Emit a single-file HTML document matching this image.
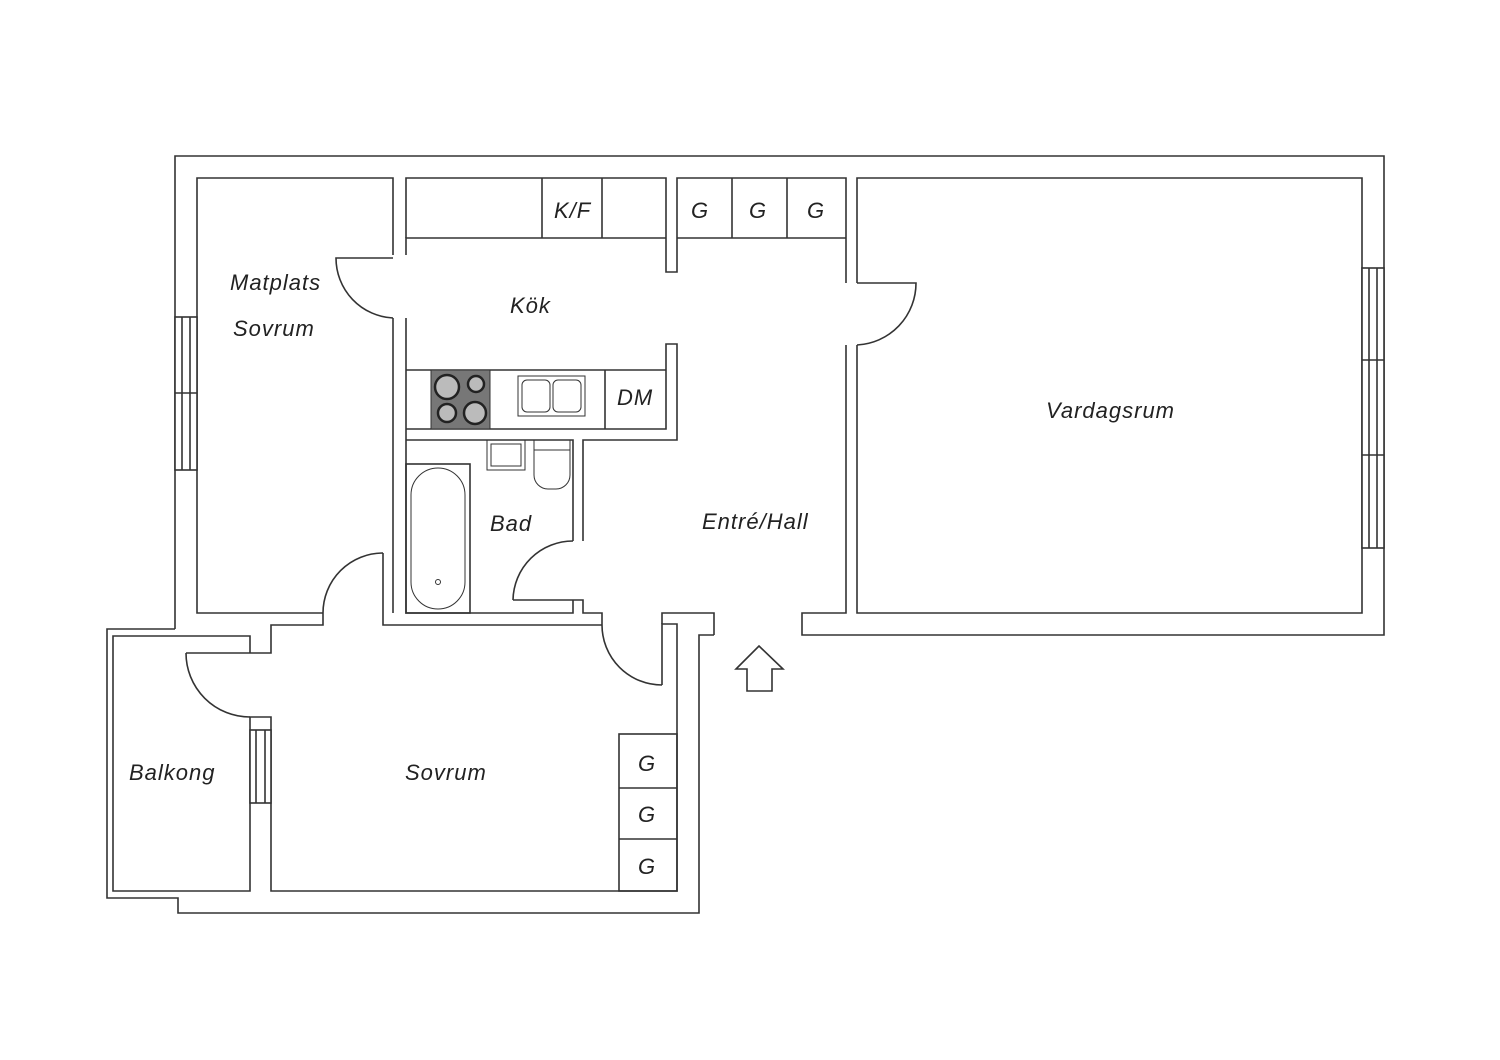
<!DOCTYPE html>
<html><head><meta charset="utf-8"><style>
html,body{margin:0;padding:0;background:#fff}
svg{display:block}
text{font-family:"Liberation Sans",sans-serif;font-style:italic;font-size:22px;fill:#222;letter-spacing:1px;font-weight:300}
</style></head><body>
<svg width="1500" height="1060" viewBox="0 0 1500 1060" xmlns="http://www.w3.org/2000/svg">
<g fill="none" stroke="#333" stroke-width="1.6">
<polyline points="175,629 175,156 1384,156 1384,635 802,635 802,613 846,613 846,345"/>
<polyline points="846,283 846,178 677,178 677,272 666,272 666,178 406,178 406,238"/>
<polyline points="714,635 699,635 699,913 178,913 178,898 107,898 107,629 175,629"/>
<polyline points="393,255 393,178 197,178 197,613 323,613"/>
<polyline points="393,318 393,613"/>
<polyline points="383,553 383,625 602,625"/>
<polyline points="323,613 323,625 271,625 271,653 186,653"/>
<polyline points="250,653 250,636 113,636 113,891 250,891 250,717 271,717 271,891 677,891 677,624 662,624 662,685"/>
<polyline points="602,625 602,613 583,613 583,600 513,600"/>
<polyline points="714,635 714,613 662,613 662,624"/>
<polyline points="406,318 406,613 573,613 573,600"/>
<polyline points="573,541 573,440 406,440"/>
<polyline points="583,541 583,440 677,440 677,344 666,344 666,429 406,429"/>
<polyline points="406,255 406,238 666,238"/>
<line x1="542" y1="178" x2="542" y2="238"/><line x1="602" y1="178" x2="602" y2="238"/>
<polyline points="677,238 846,238"/>
<line x1="732" y1="178" x2="732" y2="238"/><line x1="787" y1="178" x2="787" y2="238"/>
<line x1="406" y1="370" x2="666" y2="370"/><line x1="605" y1="370" x2="605" y2="429"/>
<polyline points="857,283 857,178 1362,178 1362,613 857,613 857,345"/>
<path d="M393,258 L336,258 A60,60 0 0 0 393,318"/>
<path d="M857,283 L916,283 A62,62 0 0 1 857,345"/>
<path d="M383,553 A60,60 0 0 0 323,613"/>
<path d="M573,541 A60,60 0 0 0 513,600"/>
<path d="M602,625 A60,60 0 0 0 662,685"/>
<path d="M186,653 A64,64 0 0 0 250,717"/>
<rect x="175" y="317" width="22" height="153" fill="#fff"/>
<line x1="182" y1="317" x2="182" y2="470"/><line x1="190" y1="317" x2="190" y2="470"/><line x1="175" y1="393" x2="197" y2="393"/>
<rect x="1362" y="268" width="22" height="280" fill="#fff"/>
<line x1="1369" y1="268" x2="1369" y2="548"/><line x1="1377" y1="268" x2="1377" y2="548"/>
<line x1="1362" y1="360" x2="1384" y2="360"/><line x1="1362" y1="455" x2="1384" y2="455"/>
<rect x="250" y="730" width="21" height="73" fill="#fff"/>
<line x1="256" y1="730" x2="256" y2="803"/><line x1="265" y1="730" x2="265" y2="803"/>
<rect x="619" y="734" width="58" height="157"/>
<line x1="619" y1="788" x2="677" y2="788"/><line x1="619" y1="839" x2="677" y2="839"/>
<rect x="406" y="464" width="64" height="149"/>
<rect x="411" y="468" width="54" height="141" rx="27" stroke-width="1"/>
<circle cx="438" cy="582" r="2.5" stroke-width="1"/>
<rect x="487" y="440" width="38" height="30" stroke-width="1"/>
<rect x="491" y="444" width="30" height="22" stroke-width="1"/>
<path d="M534,440 L534,475 A14,14 0 0 0 548,489 L556,489 A14,14 0 0 0 570,475 L570,440" stroke-width="1"/>
<line x1="534" y1="450" x2="570" y2="450" stroke-width="1"/>
<rect x="518" y="376" width="67" height="40" stroke-width="1"/>
<rect x="522" y="380" width="28" height="32" rx="5" stroke-width="1"/>
<rect x="553" y="380" width="28" height="32" rx="5" stroke-width="1"/>
<polygon points="759,646 783,669 772,669 772,691 747,691 747,669 736,669"/>
</g>
<rect x="431" y="370" width="59" height="59" fill="#777" stroke="#333"/>
<g stroke="#222" stroke-width="2.5" fill="#bbb">
<circle cx="447" cy="387" r="12"/><circle cx="476" cy="384" r="8"/>
<circle cx="447" cy="413" r="9"/><circle cx="475" cy="413" r="11"/>
</g>
<text x="230" y="290">Matplats</text>
<text x="233" y="336">Sovrum</text>
<text x="510" y="313">Kök</text>
<text x="554" y="218">K/F</text>
<text x="691" y="218">G</text>
<text x="749" y="218">G</text>
<text x="807" y="218">G</text>
<text x="617" y="405">DM</text>
<text x="1046" y="418">Vardagsrum</text>
<text x="490" y="531">Bad</text>
<text x="702" y="529">Entré/Hall</text>
<text x="405" y="780">Sovrum</text>
<text x="129" y="780">Balkong</text>
<text x="638" y="771">G</text>
<text x="638" y="822">G</text>
<text x="638" y="874">G</text>
</svg>
</body></html>
